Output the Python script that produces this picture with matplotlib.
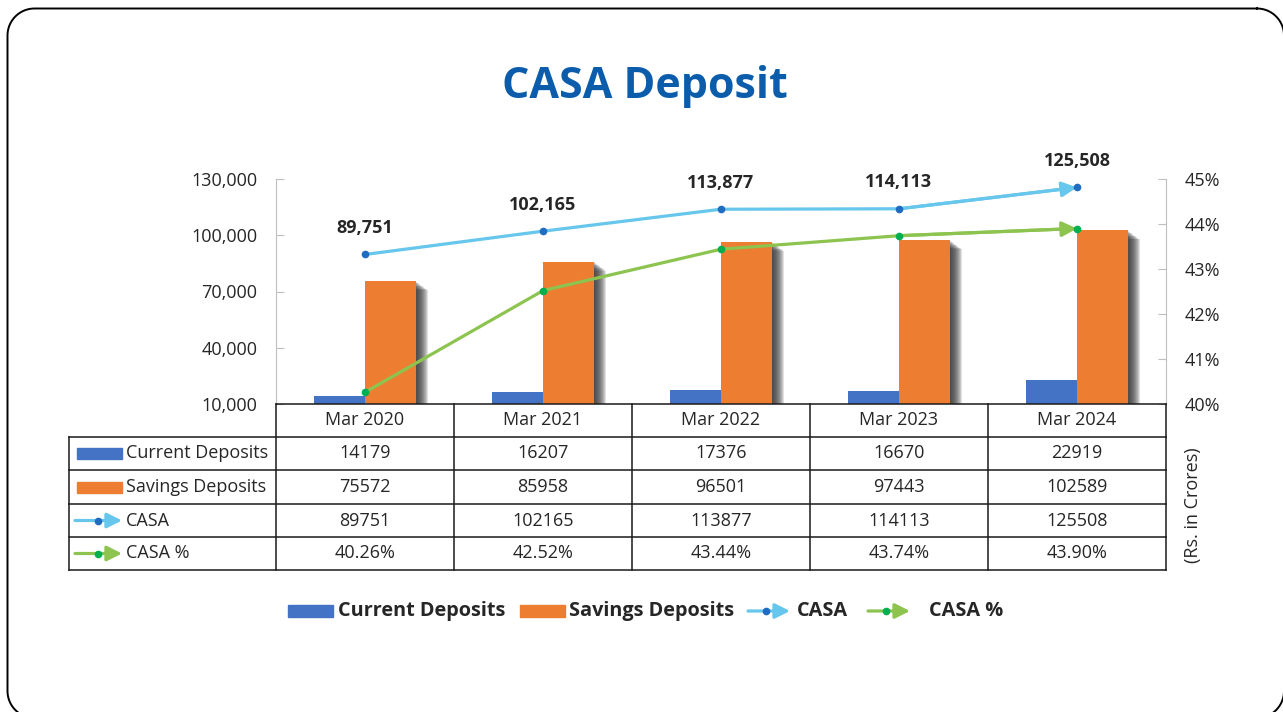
import matplotlib
matplotlib.use("Agg")
import numpy as np
import matplotlib.pyplot as plt
from matplotlib.patches import Rectangle, FancyArrowPatch
from matplotlib.lines import Line2D
from matplotlib.transforms import blended_transform_factory, ScaledTranslation

plt.rcParams['font.family'] = ['Open Sans', 'DejaVu Sans']

# data (Rs. in Crores)
years = ["Mar 2020", "Mar 2021", "Mar 2022", "Mar 2023", "Mar 2024"]
current_dep = [14179, 16207, 17376, 16670, 22919]
savings_dep = [75572, 85958, 96501, 97443, 102589]
casa = [89751, 102165, 113877, 114113, 125508]
casa_pct = [40.26, 42.52, 43.44, 43.74, 43.90]

C_BLUE = '#4472C4'
C_ORANGE = '#ED7D31'
C_CASA = '#66C6EC'
C_CASA_MK = '#1F6CC0'
C_PCT = '#8CC44F'
C_PCT_MK = '#00B050'
C_TXT = '#262626'
ARROW = '-|>,head_length=0.9,head_width=0.45'

W, H = 1283, 712
fig = plt.figure(figsize=(W / 100, H / 100), dpi=100)


def P(x, y):
    # pixel position -> figure fraction
    return x / W, 1 - y / H


# rounded frame (pixel coords, y down)
def frame_path(l, t, r, b, rad):
    pts = []
    for cx, cy, a0 in [(r - rad, t + rad, -90), (r - rad, b - rad, 0),
                       (l + rad, b - rad, 90), (l + rad, t + rad, 180)]:
        a = np.radians(np.linspace(a0, a0 + 90, 20))
        pts += list(zip(cx + rad * np.cos(a), cy + rad * np.sin(a)))
    pts.append(pts[0])
    return pts


fr = frame_path(7.5, 8.5, 1284, 718, 27)
fig.add_artist(Line2D([p[0] / W for p in fr], [1 - p[1] / H for p in fr],
                      color='black', lw=1.4, transform=fig.transFigure))

fig.text(*P(645, 87), "CASA Deposit", ha='center', va='center',
         fontsize=31, fontweight='bold', color='#0B5DAB')

# plot area
x0, x1, ytop, ybot = 276, 1166, 179, 404
ax = fig.add_axes([x0 / W, 1 - ybot / H, (x1 - x0) / W, (ybot - ytop) / H])
ax2 = ax.twinx()

xs = list(range(len(years)))
bw = 0.285

# soft drop shadow: offset translucent copies of each bar (pixels)
shadow_offs = [(k, -0.75 * k) for k in range(1, 13)]


def bars_with_shadow(pos, vals, color, z):
    for dx, dy in shadow_offs:
        t = ax.transData + ScaledTranslation(dx / 100, dy / 100, fig.dpi_scale_trans)
        ax.bar(pos, vals, bw, color='#333333', alpha=0.15, lw=0,
               transform=t, zorder=z)
    ax.bar(pos, vals, bw, color=color, lw=0, zorder=z + 0.5)


bars_with_shadow([x - bw / 2 for x in xs], current_dep, C_BLUE, 2)
bars_with_shadow([x + bw / 2 for x in xs], savings_dep, C_ORANGE, 3)

ax.plot(xs, casa, color=C_CASA, lw=2.3, zorder=4, solid_capstyle='butt')
ax.annotate('', xy=(xs[-1], casa[-1]), xytext=(xs[-2], casa[-2]),
            arrowprops=dict(arrowstyle=ARROW, color=C_CASA, lw=2.3,
                            shrinkA=0, shrinkB=0, mutation_scale=10), zorder=4)
ax.plot(xs, casa, ls='none', marker='o', ms=4.5, color=C_CASA_MK, zorder=5)
for x, v in zip(xs, casa):
    ax.annotate(f"{v:,}", (x, v), xytext=(0, 19), textcoords='offset points',
                ha='center', va='center', fontsize=13, fontweight='bold',
                color=C_TXT, zorder=6)

ax2.plot(xs, casa_pct, color=C_PCT, lw=2.3, zorder=4, solid_capstyle='butt')
ax2.annotate('', xy=(xs[-1], casa_pct[-1]), xytext=(xs[-2], casa_pct[-2]),
             arrowprops=dict(arrowstyle=ARROW, color=C_PCT, lw=2.3,
                             shrinkA=0, shrinkB=0, mutation_scale=10), zorder=4)
ax2.plot(xs, casa_pct, ls='none', marker='o', ms=4.5, color=C_PCT_MK, zorder=5)

ax.set_xlim(-0.5, len(years) - 0.5)
ax.set_ylim(10000, 130000)
ax.set_yticks([10000, 40000, 70000, 100000, 130000])
ax.set_yticklabels([f"{t:,}" for t in ax.get_yticks()])
ax2.set_ylim(40, 45)
ax2.set_yticks(range(40, 46))
ax2.set_yticklabels([f"{t}%" for t in range(40, 46)])
ax.set_xticks([])

for a in (ax, ax2):
    for s in ('top', 'bottom'):
        a.spines[s].set_visible(False)
    a.spines['left'].set_visible(a is ax)
    a.spines['right'].set_visible(a is ax2)
    a.tick_params(axis='y', direction='in', length=6, color='#BFBFBF',
                  labelsize=13, labelcolor=C_TXT, pad=13.5)
ax.spines['left'].set_color('#BFBFBF')
ax2.spines['right'].set_color('#BFBFBF')
ax.patch.set_visible(False)

# data table under the plot
tr = blended_transform_factory(ax.transData, fig.transFigure)
row_y = [404, 437, 470, 504, 537, 570]
lab_x0 = 69
line_kw = dict(color='#1A1A1A', lw=1.1, transform=fig.transFigure)

fig.add_artist(Line2D([x0 / W, x1 / W], [1 - row_y[0] / H] * 2, **line_kw))
for yy in row_y[1:]:
    fig.add_artist(Line2D([lab_x0 / W, x1 / W], [1 - yy / H] * 2, **line_kw))
for i in range(len(years) + 1):
    xp = x0 + i * (x1 - x0) / len(years)
    fig.add_artist(Line2D([xp / W] * 2, [1 - row_y[0] / H, 1 - row_y[-1] / H], **line_kw))
fig.add_artist(Line2D([lab_x0 / W] * 2, [1 - row_y[1] / H, 1 - row_y[-1] / H], **line_kw))

for x, yr in zip(xs, years):
    fig.text(x, 1 - (row_y[0] + row_y[1]) / 2 / H, yr, transform=tr,
             ha='center', va='center', fontsize=13, color=C_TXT)

rows = [
    ("Current Deposits", [str(v) for v in current_dep]),
    ("Savings Deposits", [str(v) for v in savings_dep]),
    ("CASA", [str(v) for v in casa]),
    ("CASA %", [f"{v:.2f}%" for v in casa_pct]),
]


def key(col, mk, xa, xb, yc):
    # line-with-arrow legend key in pixel coords
    fig.add_artist(FancyArrowPatch(P(xa, yc), P(xb, yc), transform=fig.transFigure,
                                   arrowstyle=ARROW, mutation_scale=10,
                                   color=col, lw=2.3, shrinkA=0, shrinkB=0))
    fig.add_artist(Line2D([P(xb - 24, yc)[0]], [P(0, yc)[1]], marker='o',
                          ms=4.5, color=mk, transform=fig.transFigure))


kinds = [C_BLUE, C_ORANGE, (C_CASA, C_CASA_MK), (C_PCT, C_PCT_MK)]
for r, ((name, vals), kd) in enumerate(zip(rows, kinds)):
    yc = (row_y[r + 1] + row_y[r + 2]) / 2
    if isinstance(kd, str):
        fig.patches.append(Rectangle(P(77, yc + 5.5), 45 / W, 11 / H,
                                     transform=fig.transFigure, color=kd))
    else:
        key(kd[0], kd[1], 75, 122, yc)
    fig.text(*P(126, yc), name, ha='left', va='center', fontsize=13, color=C_TXT)
    for x, v in zip(xs, vals):
        fig.text(x, 1 - yc / H, v, transform=tr, ha='center', va='center',
                 fontsize=13, color=C_TXT)

fig.text(*P(1193, 505), "(Rs. in Crores)", rotation=90, ha='center',
         va='center', fontsize=13, color=C_TXT)

# legend at bottom
ly = 611
leg_fs = 14.3
fig.patches.append(Rectangle(P(288, ly + 6), 45 / W, 12 / H,
                             transform=fig.transFigure, color=C_BLUE))
fig.text(*P(338, ly), "Current Deposits", ha='left', va='center',
         fontsize=leg_fs, fontweight='bold', color=C_TXT)
fig.patches.append(Rectangle(P(520, ly + 6), 45 / W, 12 / H,
                             transform=fig.transFigure, color=C_ORANGE))
fig.text(*P(569, ly), "Savings Deposits", ha='left', va='center',
         fontsize=leg_fs, fontweight='bold', color=C_TXT)
key(C_CASA, C_CASA_MK, 748, 790, ly)
fig.text(*P(797, ly), "CASA", ha='left', va='center',
         fontsize=leg_fs, fontweight='bold', color=C_TXT)
key(C_PCT, C_PCT_MK, 868, 910, ly)
fig.text(*P(929, ly), "CASA %", ha='left', va='center',
         fontsize=leg_fs, fontweight='bold', color=C_TXT)

fig.savefig("out.png", dpi=100)
